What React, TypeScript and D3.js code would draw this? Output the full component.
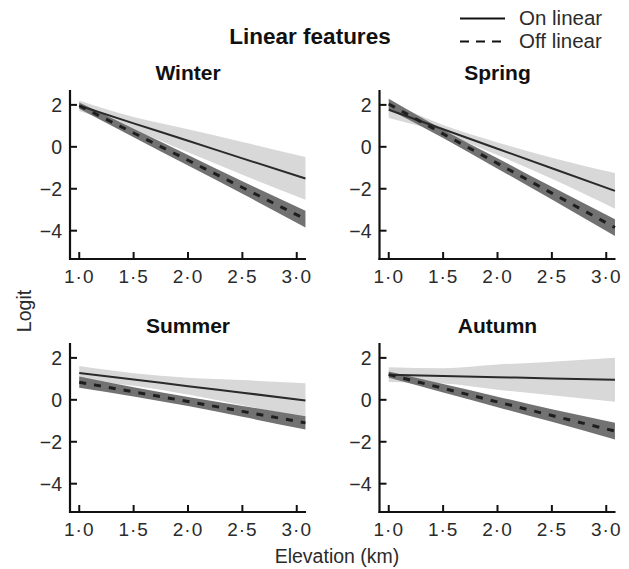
import React from 'react'
import * as d3 from 'd3'

// elevation (km) where the fitted curves were read
const elevation = [1.0, 1.5, 2.0, 2.5, 3.08]

const winterOn = [1.96, 1.12, 0.29, -0.55, -1.51]
const winterOnLo = [1.71, 0.82, -0.26, -1.33, -2.53]
const winterOnHi = [2.21, 1.42, 0.84, 0.23, -0.49]
const winterOff = [1.96, 0.66, -0.64, -1.94, -3.45]
const winterOffLo = [1.81, 0.46, -0.89, -2.24, -3.85]
const winterOffHi = [2.11, 0.86, -0.39, -1.64, -3.05]

const springOn = [1.77, 0.84, -0.09, -1.02, -2.1]
const springOnLo = [1.37, 0.64, -0.39, -1.52, -2.95]
const springOnHi = [2.17, 1.04, 0.21, -0.52, -1.25]
const springOff = [2.04, 0.62, -0.79, -2.21, -3.85]
const springOffLo = [1.79, 0.42, -1.04, -2.51, -4.25]
const springOffHi = [2.29, 0.82, -0.54, -1.91, -3.45]

const summerOn = [1.28, 0.97, 0.65, 0.34, -0.03]
const summerOnLo = [0.95, 0.67, 0.25, -0.26, -0.85]
const summerOnHi = [1.61, 1.27, 1.05, 0.94, 0.79]
const summerOff = [0.84, 0.38, -0.08, -0.55, -1.1]
const summerOffLo = [0.57, 0.16, -0.3, -0.81, -1.42]
const summerOffHi = [1.11, 0.6, 0.14, -0.29, -0.78]

const autumnOn = [1.2, 1.14, 1.08, 1.02, 0.96]
const autumnOnLo = [0.85, 0.78, 0.48, 0.22, -0.09]
const autumnOnHi = [1.55, 1.5, 1.68, 1.82, 2.01]
const autumnOff = [1.2, 0.55, -0.1, -0.75, -1.49]
const autumnOffLo = [1.05, 0.35, -0.35, -1.05, -1.89]
const autumnOffHi = [1.35, 0.75, 0.15, -0.45, -1.09]

const xTicks = [1.0, 1.5, 2.0, 2.5, 3.0]
const xTickLabels = ['1·0', '1·5', '2·0', '2·5', '3·0']
const yTicks = [2, 0, -2, -4]
const yTickLabels = ['2', '0', '−2', '−4']

const seasons = ['Winter', 'Spring', 'Summer', 'Autumn']
const legendLabels = ['On linear', 'Off linear']

const panels = [
  { title: seasons[0], on: winterOn, onLo: winterOnLo, onHi: winterOnHi, off: winterOff, offLo: winterOffLo, offHi: winterOffHi },
  { title: seasons[1], on: springOn, onLo: springOnLo, onHi: springOnHi, off: springOff, offLo: springOffLo, offHi: springOffHi },
  { title: seasons[2], on: summerOn, onLo: summerOnLo, onHi: summerOnHi, off: summerOff, offLo: summerOffLo, offHi: summerOffHi },
  { title: seasons[3], on: autumnOn, onLo: autumnOnLo, onHi: autumnOnHi, off: autumnOff, offLo: autumnOffLo, offHi: autumnOffHi }
]

const font = 'Liberation Sans, Arial, Helvetica, sans-serif'
const textColor = '#2b2b2b'

function Panel ({ p, x0, y0 }) {
  const w = 236
  const h = 169
  const xScale = d3.scaleLinear().domain([0.915, 3.085]).range([x0, x0 + w])
  const yScale = d3.scaleLinear().domain([-5.35, 2.71]).range([y0 + h, y0])

  const idx = elevation.map((_, i) => i)
  const area = (lo, hi) => d3.area()
    .x(i => xScale(elevation[i]))
    .y0(i => yScale(lo[i]))
    .y1(i => yScale(hi[i]))
    .curve(d3.curveMonotoneX)(idx)
  const line = (v) => d3.line()
    .x(i => xScale(elevation[i]))
    .y(i => yScale(v[i]))
    .curve(d3.curveMonotoneX)(idx)

  const yb = y0 + h
  return <g>
    <text x={x0 + w / 2} y={y0 - 10} textAnchor='middle' fontFamily={font} fontWeight='bold' fontSize={21} fill='#111'>{p.title}</text>
    <path d={area(p.onLo, p.onHi)} fill='#d8d8d8' />
    <path d={area(p.offLo, p.offHi)} fill='#727272' />
    <path d={line(p.on)} fill='none' stroke='#2a2a2a' strokeWidth={2} />
    <path d={line(p.off)} fill='none' stroke='#1e1e1e' strokeWidth={3} strokeDasharray='7,8' />
    <line x1={x0} y1={y0} x2={x0} y2={yb + 1} stroke='#111' strokeWidth={2.2} />
    <line x1={x0 - 1} y1={yb} x2={x0 + w} y2={yb} stroke='#111' strokeWidth={2.2} />
    {yTicks.map((v, i) => (
      <g key={'y' + i} transform={`translate(${x0},${yScale(v)})`}>
        <line x1={0} y1={0} x2={7} y2={0} stroke='#111' strokeWidth={2} />
        <text x={-8} dy='0.36em' textAnchor='end' fontFamily={font} fontSize={19.5} fill={textColor}>{yTickLabels[i]}</text>
      </g>
    ))}
    {xTicks.map((v, i) => (
      <g key={'x' + i} transform={`translate(${xScale(v)},${yb})`}>
        <line x1={0} y1={0} x2={0} y2={-7} stroke='#111' strokeWidth={2} />
        <text y={24} textAnchor='middle' fontFamily={font} fontSize={19} letterSpacing={1} fill={textColor}>{xTickLabels[i]}</text>
      </g>
    ))}
  </g>
}

export default function App () {
  const origins = [[70, 90], [379.5, 90], [70, 343], [379.5, 343]]
  return <svg width={629} height={569} style={{ position: 'absolute', left: 0, top: 0, background: '#fff' }}>
    <rect width={629} height={569} fill='#fff' />
    <text x={310} y={44} textAnchor='middle' fontFamily={font} fontWeight='bold' fontSize={22.5} fill='#111'>Linear features</text>
    <line x1={460} y1={18.5} x2={505} y2={18.5} stroke='#111' strokeWidth={2.2} />
    <line x1={460} y1={41.5} x2={505} y2={41.5} stroke='#111' strokeWidth={2.2} strokeDasharray='9,7' />
    <text x={519} y={25} fontFamily={font} fontSize={20.5} fill={textColor}>{legendLabels[0]}</text>
    <text x={519} y={48} fontFamily={font} fontSize={20.5} fill={textColor}>{legendLabels[1]}</text>
    {panels.map((p, i) => <Panel key={p.title} p={p} x0={origins[i][0]} y0={origins[i][1]} />)}
    <text transform='translate(31,311) rotate(-90)' textAnchor='middle' fontFamily={font} fontSize={19.5} fill={textColor}>Logit</text>
    <text x={337} y={563} textAnchor='middle' fontFamily={font} fontSize={19.5} fill={textColor}>Elevation (km)</text>
  </svg>
}
